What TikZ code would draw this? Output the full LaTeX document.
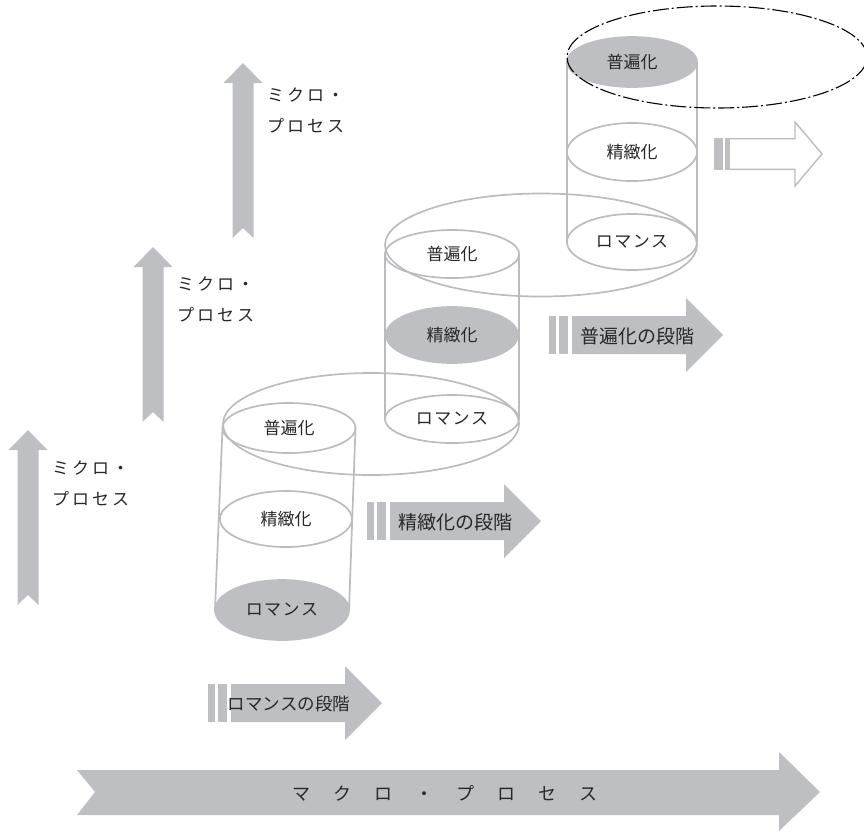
\documentclass[tikz,border=0pt]{standalone}
\usepackage{fontspec}
\newfontfamily\jp{Noto Sans CJK JP}
\usetikzlibrary{shapes.geometric}
\definecolor{edgegray}{RGB}{188,188,192}
\definecolor{fillgray}{RGB}{190,191,195}
\definecolor{inkgray}{RGB}{40,40,40}
\newcommand{\kgap}{\kern3pt}
\tikzset{
  disc/.style={ellipse, draw=edgegray, line width=1.7pt, inner sep=0pt, outer sep=0pt,
    text=inkgray, font=\jp\fontsize{17}{17}\selectfont},
  discfill/.style={disc, fill=fillgray, draw=fillgray},
  ring/.style={ellipse, draw=edgegray, line width=1.7pt, inner sep=0pt, outer sep=0pt},
  side/.style={draw=edgegray, line width=1.7pt},
  lbl/.style={text=inkgray, inner sep=0pt},
  microlbl/.style={lbl, anchor=west, align=left, font=\jp\fontsize{17}{31}\selectfont},
  stagelbl/.style={lbl, font=\jp\fontsize{19}{19}\selectfont},
  % upward arrow with a notched tail
  microarrow/.pic={
    \fill[fillgray] (0,0) -- (19.5,20) -- (10.5,20) -- (10.5,175) -- (0,165)
      -- (-10.5,175) -- (-10.5,20) -- (-19.5,20) -- cycle;
  },
  % two bars followed by a block arrow
  stagearrow/.pic={
    \fill[fillgray] (0,-19) rectangle (7,19);
    \fill[fillgray] (10,-19) rectangle (19,19);
    \fill[fillgray] (23,-19) -- (137,-19) -- (137,-37) -- (174,0) -- (137,37)
      -- (137,19) -- (23,19) -- cycle;
  },
}
\begin{document}
\begin{tikzpicture}[x=1pt, y=-1pt]
\useasboundingbox (0,0) rectangle (864,831);

% micro-process arrows
\pic at (28,430) {microarrow};
\pic at (153,247) {microarrow};
\pic at (243,63) {microarrow};
\node[microlbl] (m1) at (52,483) {ミ\kgap ク\kgap ロ\kgap ・\\プ\kgap ロ\kgap セ\kgap ス};
\node[microlbl] (m2) at (177,299) {ミ\kgap ク\kgap ロ\kgap ・\\プ\kgap ロ\kgap セ\kgap ス};
\node[microlbl] (m3) at (267,110) {ミ\kgap ク\kgap ロ\kgap ・\\プ\kgap ロ\kgap セ\kgap ス};

% macro-process arrow
\fill[fillgray] (77,770) -- (779,770) -- (779,752) -- (820,792) -- (779,831)
  -- (779,815) -- (77,815) -- (95,792) -- cycle;
\node[lbl, font=\jp\fontsize{18}{18}\selectfont] (macro) at (445,793)
  {マ\hspace{23pt}ク\hspace{23pt}ロ\hspace{23pt}・\hspace{23pt}プ\hspace{23pt}ロ\hspace{23pt}セ\hspace{23pt}ス};

% stage arrows
\pic at (208,703) {stagearrow};
\pic at (367,521) {stagearrow};
\pic at (549,335) {stagearrow};
\node[stagelbl, font=\jp\fontsize{17.5}{17.5}\selectfont] (s1) at (289,704) {ロマンスの段階};
\node[stagelbl] (s2) at (455,522) {精緻化の段階};
\node[stagelbl] (s3) at (637,336) {普遍化の段階};

% next stage (outlined arrow)
\fill[fillgray] (714,138) rectangle (723,170);
\fill[fillgray] (725,138) rectangle (730,170);
\draw[edgegray, line width=1.4pt] (730,138.7) -- (795,138.7) -- (795,122) -- (822,154)
  -- (795,186) -- (795,169.3) -- (730,169.3);

% cylinder 1
\node[disc, minimum width=133pt, minimum height=50pt] (c1top) at (289,428) {普遍化};
\node[disc, minimum width=132pt, minimum height=56pt] (c1mid) at (286,519) {精緻化};
\node[discfill, minimum width=134pt, minimum height=60pt] (c1bot) at (282,610) {ロ\kern1.5pt マ\kern1.5pt ン\kern1.5pt ス};
\draw[side] (c1top.west) -- (c1bot.west);
\draw[side] (c1top.east) -- (c1bot.east);

% cylinder 2
\node[disc, minimum width=134pt, minimum height=48pt] (c2top) at (452,254) {普遍化};
\node[discfill, minimum width=132pt, minimum height=56pt] (c2mid) at (452,335) {精緻化};
\node[disc, minimum width=134pt, minimum height=48pt] (c2bot) at (452,419) {ロ\kern1.5pt マ\kern1.5pt ン\kern1.5pt ス};
\draw[side] (c2top.west) -- (c2bot.west);
\draw[side] (c2top.east) -- (c2bot.east);

% cylinder 3
\node[discfill, minimum width=130pt, minimum height=50pt] (c3top) at (632,62) {普遍化};
\node[disc, minimum width=130pt, minimum height=58pt] (c3mid) at (632,152) {精緻化};
\node[disc, minimum width=130pt, minimum height=56pt] (c3bot) at (632,242) {ロ\kern1.5pt マ\kern1.5pt ン\kern1.5pt ス};
\draw[side] (c3top.west) -- (c3bot.west);
\draw[side] (c3top.east) -- (c3bot.east);

% rings joining one level to the next
\node[ring, minimum width=296pt, minimum height=102pt] (r1) at (371,424) {};
\node[ring, minimum width=312pt, minimum height=103pt] (r2) at (541,245) {};

% outlook ring
\node[ellipse, draw=black, line width=1.1pt, inner sep=0pt,
  dash pattern=on 16pt off 3pt on 2pt off 3pt,
  minimum width=300pt, minimum height=102pt] (r3) at (717,57) {};
\end{tikzpicture}
\end{document}
